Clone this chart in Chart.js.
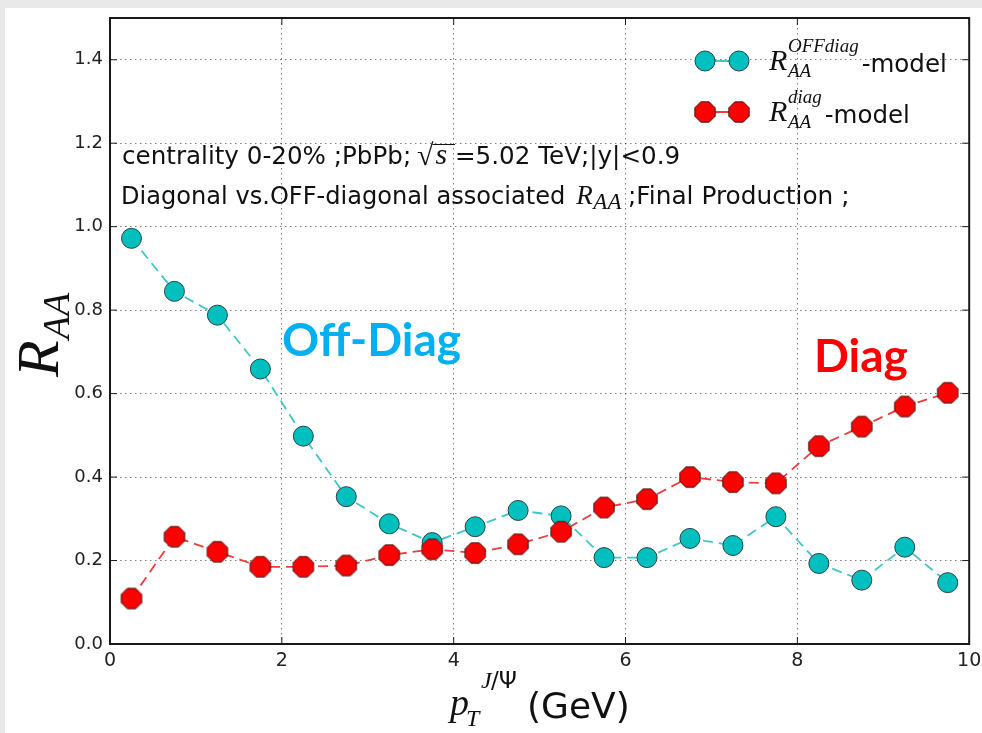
<!DOCTYPE html>
<html><head><meta charset="utf-8">
<script src="https://cdn.jsdelivr.net/npm/chart.js@4"></script>
<style>
html,body{margin:0;padding:0;background:#e9e9e9;overflow:hidden;}
#wrap{position:absolute;left:0;top:0;width:982px;height:733px;}
</style>
</head><body>
<div id="wrap"><canvas id="c" width="982" height="733"></canvas></div>
<script>
// ---- data ----
const ptBins = [0.25,0.75,1.25,1.75,2.25,2.75,3.25,3.75,4.25,4.75,5.25,5.75,6.25,6.75,7.25,7.75,8.25,8.75,9.25,9.75];
const offDiagRAA = [0.972,0.845,0.788,0.659,0.498,0.353,0.288,0.243,0.281,0.320,0.307,0.207,0.207,0.253,0.236,0.305,0.193,0.153,0.232,0.147];
const diagRAA = [0.109,0.257,0.221,0.185,0.185,0.188,0.213,0.227,0.218,0.239,0.269,0.327,0.347,0.400,0.388,0.385,0.474,0.521,0.569,0.602];
const xTicks = [0,2,4,6,8,10];
const yTicks = [0.0,0.2,0.4,0.6,0.8,1.0,1.2,1.4];
const seriesNames = ['OFFdiag','diag'];
const infoLine1 = ['centrality 0-20% ;PbPb;', '=5.02 TeV;|y|<0.9'];
const infoLine2 = ['Diagonal vs.OFF-diagonal associated', ';Final Production ;'];
const labelOff = 'Off-Diag';
const labelDiag = 'Diag';

const CYAN = '#00bfbf', CYAN_LINE = '#40c6c6', RED = '#ff0000', RED_LINE = '#f03c3c', EDGE = '#2a4444';

function octagon(fill, edge, r){
  const s = Math.ceil(r*2+2);
  const c = document.createElement('canvas'); c.width = s; c.height = s;
  const g = c.getContext('2d');
  g.beginPath();
  for(let k=0;k<8;k++){
    const a = Math.PI/8 + k*Math.PI/4;
    const x = s/2 + r*Math.cos(a), y = s/2 + r*Math.sin(a);
    k?g.lineTo(x,y):g.moveTo(x,y);
  }
  g.closePath(); g.fillStyle=fill; g.fill(); g.lineWidth=1; g.strokeStyle=edge; g.stroke();
  return c;
}
const redOct = octagon(RED, '#3a1a1a', 11);

const serif = '"Liberation Serif", "DejaVu Serif", serif';
const sans = '"DejaVu Sans", sans-serif';

// R with subscript AA and optional superscript; returns end x
function drawRAA(ctx, x, y, size, subSize, sup, supDy, subDy){
  ctx.font = 'italic ' + size + 'px ' + serif;
  ctx.fillText('R', x, y);
  const w = ctx.measureText('R').width;
  ctx.font = 'italic ' + subSize + 'px ' + serif;
  const sx = x + w + size*0.02;
  ctx.fillText('AA', sx, y + subDy);
  let end = sx + ctx.measureText('AA').width;
  if (sup){
    ctx.fillText(sup, sx, y - supDy);
    end = Math.max(end, sx + ctx.measureText(sup).width);
  }
  return end;
}

const decor = {
  id:'decor',
  beforeDraw(chart){
    const ctx = chart.ctx;
    ctx.save();
    ctx.fillStyle = '#e9e9e9'; ctx.fillRect(0,0,982,733);
    ctx.fillStyle = '#ffffff'; ctx.fillRect(5,8,977,725);
    ctx.restore();
  },
  afterDraw(chart){
    const ctx = chart.ctx, a = chart.chartArea;
    const xs = chart.scales.x, ys = chart.scales.y;
    ctx.save();
    // frame
    ctx.strokeStyle = '#1a1a1a'; ctx.lineWidth = 2;
    ctx.strokeRect(a.left, a.top, a.right-a.left, a.bottom-a.top);
    // inward ticks
    ctx.lineWidth = 1;
    ctx.beginPath();
    xTicks.forEach(v=>{const px = xs.getPixelForValue(v);
      ctx.moveTo(px,a.bottom); ctx.lineTo(px,a.bottom-7);
      ctx.moveTo(px,a.top); ctx.lineTo(px,a.top+7);});
    yTicks.forEach(v=>{const py = ys.getPixelForValue(v);
      ctx.moveTo(a.left,py); ctx.lineTo(a.left+7,py);
      ctx.moveTo(a.right,py); ctx.lineTo(a.right-7,py);});
    ctx.stroke();

    // info text
    ctx.fillStyle = '#111';
    ctx.strokeStyle = '#111';
    ctx.textBaseline = 'alphabetic';
    ctx.font = '24.6px ' + sans;
    ctx.fillText(infoLine1[0], 122, 164);
    // sqrt s
    ctx.font = '30px ' + serif;
    ctx.fillText('\u221A', 417, 165);
    const sw = ctx.measureText('\u221A').width;
    ctx.font = 'italic 30px ' + serif;
    ctx.fillText('s', 417+sw+2, 164);
    const ssw = ctx.measureText('s').width;
    ctx.beginPath(); ctx.lineWidth=1;
    ctx.moveTo(417+sw-1, 144.5); ctx.lineTo(455, 144.5); ctx.stroke();
    ctx.font = '24.6px ' + sans;
    ctx.fillText(infoLine1[1], 455, 164);

    ctx.font = '24.1px ' + sans;
    ctx.fillText(infoLine2[0], 121, 204);
    const p2 = 121 + ctx.measureText(infoLine2[0]).width + 11;
    drawRAA(ctx, p2, 204, 27, 23, null, 0, 5);
    ctx.font = '24.8px ' + sans;
    ctx.fillText(infoLine2[1], 628, 204);

    // big labels
    ctx.font = 'bold 46px Lato, "Open Sans", sans-serif';
    ctx.fillStyle = '#00b0f0';
    ctx.fillText(labelOff, 282, 356);
    ctx.fillStyle = '#ff0000';
    ctx.fillText(labelDiag, 814, 372);

    // legend
    const rows = [{y:61, sup:seriesNames[0], c:CYAN_LINE, oct:false},{y:112, sup:seriesNames[1], c:RED_LINE, oct:true}];
    rows.forEach(r=>{
      ctx.strokeStyle = r.c; ctx.lineWidth = 1.8;
      ctx.beginPath(); ctx.moveTo(705,r.y); ctx.lineTo(739,r.y); ctx.stroke();
      [705,739].forEach(mx=>{
        if(r.oct){ ctx.drawImage(redOct, mx-redOct.width/2, r.y-redOct.height/2); }
        else { ctx.beginPath(); ctx.arc(mx,r.y,10,0,Math.PI*2); ctx.fillStyle=CYAN; ctx.fill(); ctx.lineWidth=1; ctx.strokeStyle=EDGE; ctx.stroke(); }
      });
      ctx.fillStyle = '#111';
      const e = drawRAA(ctx, 769, r.y+9, 30, 19, r.sup, 18, 7);
      ctx.font = '24.5px ' + sans;
      ctx.fillText('-model', e + 3, r.y+11);
    });

    // x title
    ctx.fillStyle = '#111';
    ctx.font = 'italic 38px ' + serif;
    ctx.fillText('p', 450, 715);
    ctx.font = 'italic 24px ' + serif;
    ctx.fillText('T', 466, 726);
    ctx.font = 'italic 24px ' + serif;
    ctx.fillText('J', 481, 688);
    ctx.font = '23px ' + sans;
    ctx.fillText('/\u03A8', 491, 688);
    ctx.font = '36px ' + sans;
    ctx.fillText('(GeV)', 527, 718);

    // y title
    ctx.save();
    ctx.translate(58, 377);
    ctx.rotate(-Math.PI/2);
    drawRAA(ctx, 0, 0, 60, 38, null, 0, 11);
    ctx.restore();

    ctx.restore();
  }
};

const chart = new Chart(document.getElementById('c'), {
  type:'line',
  data:{
    datasets:[
      {label:'OFFdiag', data: ptBins.map((x,i)=>({x, y: offDiagRAA[i]})),
       borderColor: CYAN_LINE, borderWidth:1.8, borderDash:[10,6], backgroundColor: CYAN,
       pointRadius:10, pointHoverRadius:10, pointBackgroundColor: CYAN, pointBorderColor: EDGE, pointBorderWidth:1,
       tension:0, order:2},
      {label:'diag', data: ptBins.map((x,i)=>({x, y: diagRAA[i]})),
       borderColor: RED_LINE, borderWidth:1.8, borderDash:[10,6], backgroundColor: RED,
       pointStyle: redOct, pointRadius:11, pointHoverRadius:11,
       tension:0, order:1}
    ]
  },
  options:{
    responsive:false, animation:false, devicePixelRatio:1,
    layout:{padding:{left:0,right:12,top:18,bottom:0}},
    plugins:{legend:{display:false}, tooltip:{enabled:false}},
    events:[],
    scales:{
      x:{type:'linear', min:0, max:10,
         afterBuildTicks(s){ s.ticks = xTicks.map(v=>({value:v})); },
         afterFit(s){ s.height = 89; s.paddingLeft = 0; s.paddingRight = 0; },
         ticks:{font:{family:'DejaVu Sans', size:19}, color:'#222', padding:6, maxRotation:0,
                callback:v=>String(v)},
         grid:{color:'rgba(0,0,0,0.5)', lineWidth:1, drawTicks:false},
         border:{display:false, dash:[1.5,3.5]}},
      y:{type:'linear', min:0, max:1.5,
         afterBuildTicks(s){ s.ticks = yTicks.map(v=>({value:v})); },
         afterFit(s){ s.width = 110; s.paddingTop = 0; s.paddingBottom = 0; },
         ticks:{font:{family:'DejaVu Sans', size:18}, color:'#222', padding:7,
                callback:v=>Number(v).toFixed(1)},
         grid:{color:'rgba(0,0,0,0.5)', lineWidth:1, drawTicks:false},
         border:{display:false, dash:[1.5,3.5]}}
    }
  },
  plugins:[decor]
});
</script>
</body></html>
